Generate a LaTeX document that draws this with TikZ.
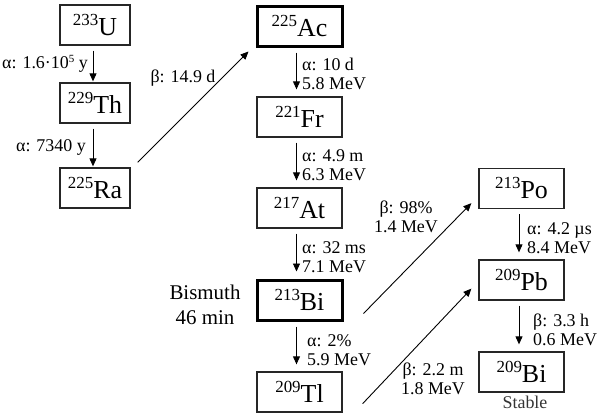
\documentclass[tikz,border=0pt]{standalone}
\usepackage{fontspec}
\setmainfont{Liberation Serif}
\usetikzlibrary{arrows.meta,calc}
\newcommand\iso[2]{\raisebox{10bp}{\fontsize{17}{17}\selectfont #1}#2}
\newcommand\supfive{\raisebox{6bp}{\fontsize{11}{11}\selectfont 5}}
\begin{document}
\begin{tikzpicture}[x=1bp,y=-1bp,
  nuc/.style={draw=black!85, line width=1.3bp, minimum width=85bp, minimum height=40bp, inner sep=0pt, font=\fontsize{26}{26}\selectfont},
  nucL/.style={nuc, minimum width=70bp},
  nucB/.style={nuc, draw=black, line width=3bp},
  lab/.style={font=\fontsize{18}{19}\selectfont, align=left, inner sep=0pt},
  labc/.style={lab, align=center},
  decay/.style={line width=0.9bp, -{Triangle[length=8bp,width=7bp]}},
  vdecay/.style={decay, shorten <=5bp, shorten >=7bp},
  ldecay/.style={decay, shorten <=5bp, shorten >=1bp}
]
\useasboundingbox (0,0) rectangle (600,415);
% left column
\node[nucL] (U) at (95,25) {\iso{233}{U}};
\node[nucL] (Th) at (95,103) {\iso{229}{Th}};
\node[nucL] (Ra) at (95,188) {\iso{225}{Ra}};
% middle column
\node[nucB] (Ac) at (299.5,26) {\iso{225}{Ac}};
\node[nuc] (Fr) at (299.5,117) {\iso{221}{Fr}};
\node[nuc] (At) at (299.5,208) {\iso{217}{At}};
\node[nucB] (Bi) at (299.5,300) {\iso{213}{Bi}};
\node[nuc] (Tl) at (299.5,392) {\iso{209}{Tl}};
% right column
\node[nuc] (Po) at (521.5,188.5) {\iso{213}{Po}};
\node[nuc] (Pb) at (521.5,280) {\iso{209}{Pb}};
\node[nuc] (BiS) at (521.5,372) {\iso{209}{Bi}};

% vertical decays
\draw[ldecay] ([xshift=-2bp]U.south) -- ([xshift=-2bp]Th.north);
\draw[ldecay] ([xshift=-2bp]Th.south) -- ([xshift=-2bp]Ra.north);
\draw[vdecay] ([xshift=-3bp]Ac.south) -- ([xshift=-3bp]Fr.north);
\draw[vdecay] ([xshift=-3bp]Fr.south) -- ([xshift=-3bp]At.north);
\draw[vdecay] ([xshift=-3bp]At.south) -- ([xshift=-3bp]Bi.north);
\draw[vdecay] ([xshift=-3bp]Bi.south) -- ([xshift=-3bp]Tl.north);
\draw[vdecay] ([xshift=-2.5bp]Po.south) -- ([xshift=-2.5bp]Pb.north);
\draw[vdecay] ([xshift=-2.5bp]Pb.south) -- ([xshift=-2.5bp]BiS.north);

% diagonal decays
\draw[decay] ($(Ra.north east)+(7,-5)$) -- ($(Ac.south west)+(-7,4)$);
\draw[decay] ($(Bi.south east)+(20,-8)$) -- ($(Po.south west)+(-7,-6)$);
\draw[decay] ($(Tl.south east)+(20,-9)$) -- ($(Pb.south west)+(-7,-12)$);

% labels
\node[lab, anchor=east] (lU) at (88,64) {α: 1.6·10\supfive{} y};
\node[lab, anchor=east] (lTh) at (86,147) {α: 7340 y};
\node[lab] (lRa) at (183,78) {β: 14.9 d};
\node[lab, anchor=west] (lAc) at (302,73.5) {α: 10 d\\5.8 MeV};
\node[lab, anchor=west] (lFr) at (302,165) {α: 4.9 m\\6.3 MeV};
\node[lab, anchor=west] (lAt) at (302,257) {α: 32 ms\\7.1 MeV};
\node[lab, anchor=west] (lBi) at (307,350) {α: 2\%\\5.9 MeV};
\node[labc] (lBiPo) at (406,217) {β: 98\%\\1.4 MeV};
\node[labc] (lTlPb) at (433,379) {β: 2.2 m\\1.8 MeV};
\node[lab, anchor=west] (lPo) at (527,238.5) {α: 4.2 µs\\8.4 MeV};
\node[lab, anchor=west] (lPb) at (533,330) {β: 3.3 h\\0.6 MeV};
\node[labc, font=\fontsize{21}{25}\selectfont] (lBism) at (205,305) {Bismuth\\46 min};
\node[lab, font=\fontsize{18}{18}\selectfont, text=black!80] (lStable) at (525,402) {Stable};
\end{tikzpicture}
\end{document}
